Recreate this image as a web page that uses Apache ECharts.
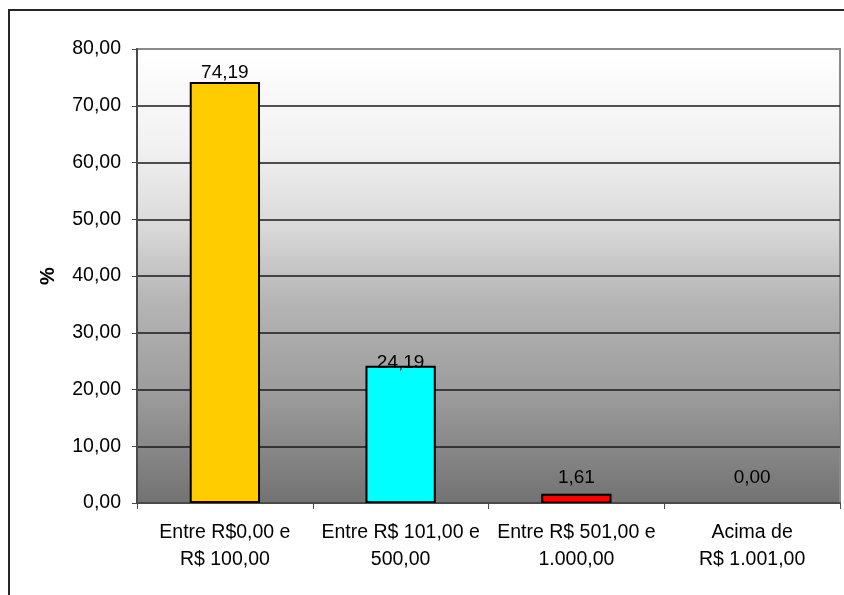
<!DOCTYPE html>
<html>
<head>
<meta charset="utf-8">
<script src="https://cdn.jsdelivr.net/npm/echarts@6/dist/echarts.min.js"></script>
<style>
  html, body { margin: 0; padding: 0; background: #ffffff; }
  #chart { width: 844px; height: 595px; }
</style>
</head>
<body>
<div id="chart"></div>
<script>
// Faixas de renda e percentuais
const categories = [
  'Entre R$0,00 e\nR$ 100,00',
  'Entre R$ 101,00 e\n500,00',
  'Entre R$ 501,00 e\n1.000,00',
  'Acima de\nR$ 1.001,00'
];
const percentValues = [74.19, 24.19, 1.61, 0.00];
const yTicks = { min: 0, max: 80, interval: 10 };

// Aparência de cada barra
const barColors = ['#FFCC00', '#00FFFF', '#FF0000', '#999999'];
const labelDistances = [0, -7, 7, 16];

const fmt = v => v.toFixed(2).replace('.', ',');
const FONT = '"Liberation Sans", Arial, sans-serif';

const chart = echarts.init(document.getElementById('chart'), null, { renderer: 'canvas' });

const gridLineColors = [];
for (let v = yTicks.min; v <= yTicks.max; v += yTicks.interval) {
  gridLineColors.push(v === yTicks.max ? '#8a8a8a' : '#1a1a1a');
}

chart.setOption({
  animation: false,
  backgroundColor: '#ffffff',
  graphic: [{
    type: 'rect',
    shape: { x: 9, y: 10, width: 900, height: 700 },
    style: { fill: 'none', stroke: '#262626', lineWidth: 2 },
    z: 100
  }],
  grid: {
    left: 137, top: 49, right: 4, bottom: 92,
    show: true,
    borderWidth: 2,
    borderColor: '#8a8a8a',
    backgroundColor: {
      type: 'linear', x: 0, y: 0, x2: 0, y2: 1,
      colorStops: [
        { offset: 0, color: '#ffffff' },
        { offset: 0.22, color: '#f1f1f1' },
        { offset: 0.4, color: '#d8d8d8' },
        { offset: 0.55, color: '#b6b6b6' },
        { offset: 0.77, color: '#9a9a9a' },
        { offset: 1, color: '#727272' }
      ]
    }
  },
  xAxis: {
    type: 'category',
    data: categories,
    axisLine: { show: true, lineStyle: { color: '#4a4a4a', width: 2 } },
    axisTick: { show: true, length: 6, alignWithLabel: false, lineStyle: { color: '#4a4a4a', width: 1 } },
    axisLabel: {
      interval: 0, margin: 16,
      color: '#000', fontFamily: FONT, fontSize: 19.5, lineHeight: 27
    },
    splitLine: { show: false }
  },
  yAxis: {
    type: 'value',
    min: yTicks.min, max: yTicks.max, interval: yTicks.interval,
    name: '%',
    nameLocation: 'middle',
    nameGap: 79,
    nameRotate: 90,
    nameTextStyle: { color: '#000', fontFamily: FONT, fontSize: 20, fontWeight: 'bold' },
    axisLine: { show: true, lineStyle: { color: '#4a4a4a', width: 2 } },
    axisTick: { show: true, length: 5, lineStyle: { color: '#4a4a4a', width: 1 } },
    axisLabel: {
      margin: 16, formatter: v => fmt(v),
      color: '#000', fontFamily: FONT, fontSize: 19.5
    },
    splitLine: { show: true, lineStyle: { color: gridLineColors, width: 1.5 } }
  },
  series: [{
    type: 'bar',
    barWidth: '40%',
    data: percentValues.map((v, i) => ({
      value: v,
      // uma barra de valor zero não deixa contorno visível
      itemStyle: { color: barColors[i], borderWidth: v === 0 ? 0 : 2 },
      label: { distance: labelDistances[i] }
    })),
    itemStyle: { borderColor: '#000' },
    label: {
      show: true, position: 'top',
      formatter: p => fmt(p.value),
      color: '#000', fontFamily: FONT, fontSize: 19
    }
  }]
});
</script>
</body>
</html>
